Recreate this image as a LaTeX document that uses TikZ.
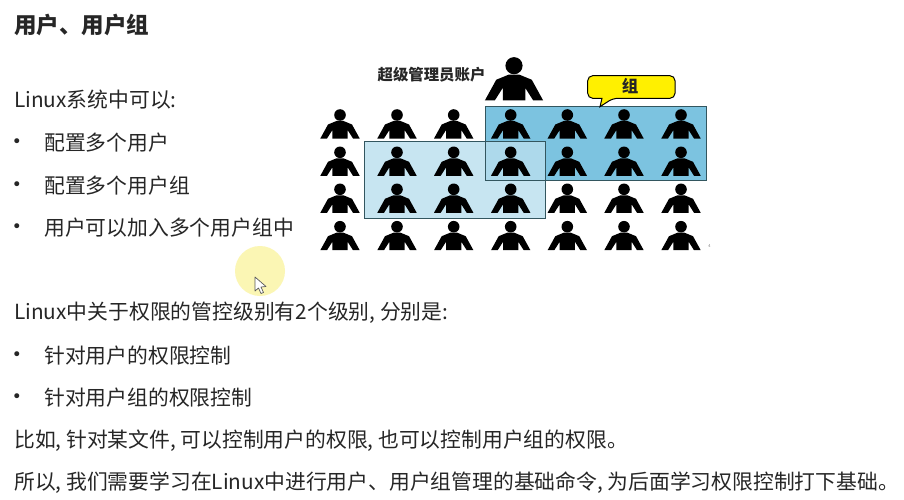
\documentclass[tikz,border=0pt]{standalone}
\usepackage{fontspec}
\setmainfont{Noto Sans CJK SC}
\newfontfamily\bulfont{DejaVu Sans}
\definecolor{ink}{HTML}{262626}
\definecolor{grpblue}{HTML}{7CC3E0}
\definecolor{grplight}{HTML}{BADFEE}
\definecolor{grpedge}{HTML}{33565F}
\definecolor{callout}{HTML}{FFF000}
\definecolor{glow}{HTML}{FBF6B4}
\tikzset{
  x=1pt,y=-1pt,
  txt/.style={anchor=west,inner sep=0pt,font=\fontsize{20.8}{23}\selectfont,text=ink},
  bul/.style={anchor=center,inner sep=0pt,font=\bulfont\fontsize{17}{19}\selectfont,text=ink},
  person/.pic={
    \fill[black] (0,0) circle (5.8);
    \fill[black] (-3.5,6) -- (3.5,6) -- (12,9.5) -- (19.7,23.5) -- (13,23.5) -- (7.6,15) -- (7.6,23.5)
      -- (-7.6,23.5) -- (-7.6,15) -- (-13,23.5) -- (-19.7,23.5) -- (-12,9.5) -- cycle;
  }
}
\begin{document}
\begin{tikzpicture}
\useasboundingbox[fill=white] (0,0) rectangle (904,500);
% text
\node[txt,font=\fontsize{22.5}{25}\selectfont\bfseries] (title) at (14,25) {用户、用户组};
\node[txt] (l1) at (14,100) {Linux系统中可以:};
\node[bul] (b1) at (17,143) {•};
\node[txt] (t1) at (44,143) {配置多个用户};
\node[bul] (b2) at (17,186) {•};
\node[txt] (t2) at (44,186) {配置多个用户组};
\node[bul] (b3) at (17,228) {•};
\node[txt] (t3) at (44,228) {用户可以加入多个用户组中};
\node[txt] (l2) at (14,313) {Linux中关于权限的管控级别有2个级别, 分别是:};
\node[bul] (b4) at (17,356) {•};
\node[txt] (t4) at (44,356) {针对用户的权限控制};
\node[bul] (b5) at (17,398) {•};
\node[txt] (t5) at (44,398) {针对用户组的权限控制};
\node[txt] (l3) at (14,441) {比如, 针对某文件, 可以控制用户的权限, 也可以控制用户组的权限。};
\node[txt] (l4) at (14,483) {所以, 我们需要学习在Linux中进行用户、用户组管理的基础命令, 为后面学习权限控制打下基础。};
% pointer highlight
\fill[glow] (260,271) circle (25);
\draw[gray!70!black,fill=white,line width=.7pt,line join=round] (255,277) -- (255,291) -- (258.5,288) -- (261,293.5) -- (263.5,292.5) -- (261,287) -- (266,286.5) -- cycle;
% group boxes
\fill[grpblue] (485.7,106.7) rectangle (706.7,180.3);
\fill[grplight,opacity=.8] (364.3,141.7) rectangle (545,218.3);
% people
\foreach \y in {115,152.3,189.3,226.7}
  \foreach \x in {340,397,453.7,510.7,567.3,624,681}
    \pic at (\x,\y) {person};
\pic[scale=1.48] at (514,65.7) {person};
\draw[grpedge,line width=.9pt] (485.7,106.7) rectangle (706.7,180.3);
\draw[grpedge,line width=.9pt] (364.3,141.7) rectangle (545,218.3);
% callout
\draw[black,fill=callout,line width=1pt,rounded corners=5pt] (587.7,75.7) -- (675,75.7) -- (675,98.3) -- (613,98.3) [sharp corners] -- (600,106.7) -- (602,98.3) [rounded corners=5pt] -- (587.7,98.3) -- cycle;
\node[inner sep=0pt,font=\fontsize{16.5}{18}\selectfont\bfseries,text=ink] (grp) at (630,86.5) {组};
\node[inner sep=0pt,font=\fontsize{15.4}{17}\selectfont\bfseries,text=ink] (root) at (431.5,74.5) {超级管理员账户};
\node[inner sep=0pt,font=\fontsize{4}{5}\selectfont,text=gray] (pg) at (709.5,246.5) {4};
\end{tikzpicture}
\end{document}
